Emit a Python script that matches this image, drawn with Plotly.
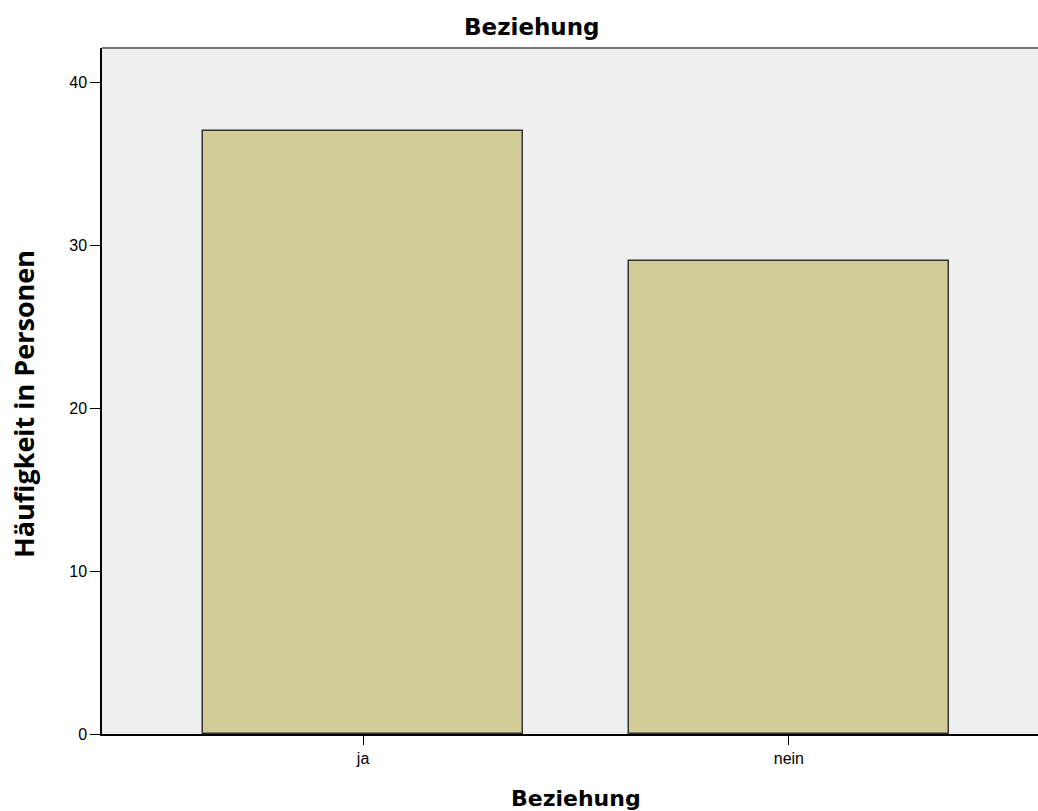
import plotly.graph_objects as go

categories = ["ja", "nein"]
counts = [37, 29]
y_ticks = [0, 10, 20, 30, 40]

W, H = 1038, 811
L, T, B = 102, 48, 77

fig = go.Figure()
fig.add_trace(go.Bar(
    x=[0, 1], y=counts, width=0.751,
    marker=dict(color="#d2cd98", line=dict(color="#333333", width=1.5)),
    showlegend=False,
))

fig.update_layout(
    width=W, height=H,
    margin=dict(l=L, r=0, t=T, b=B),
    paper_bgcolor="white", plot_bgcolor="#efefef",
    bargap=0,
)
fig.update_xaxes(
    range=[-0.613, 1.585], tickvals=[0, 1], ticktext=categories,
    showgrid=False, zeroline=False, showline=True, linecolor="black", linewidth=1.5,
    ticks="outside", ticklen=9, tickcolor="black", tickwidth=1,
    tickfont=dict(family="Liberation Sans, Arial", size=16, color="black"),
)
fig.update_yaxes(
    range=[0, 42.09], tickvals=y_ticks,
    showgrid=False, zeroline=False, showline=True, linecolor="black", linewidth=1.5,
    ticks="outside", ticklen=10, tickcolor="black", tickwidth=1,
    tickfont=dict(family="Liberation Sans, Arial", size=16, color="black"),
)
fig.add_shape(type="line", xref="paper", yref="paper", x0=0, x1=1, y0=1, y1=1,
              line=dict(color="#777777", width=2))

plot_w = W - L
plot_h = H - T - B
# chart title
fig.add_annotation(text="<b>Beziehung</b>", xref="paper", yref="paper",
                   x=(531.5 - L) / plot_w, y=1 + (48 - 27) / plot_h,
                   xanchor="center", yanchor="middle", showarrow=False,
                   font=dict(family="DejaVu Sans", size=23, color="black"))
# x-axis title
fig.add_annotation(text="<b>Beziehung</b>", xref="paper", yref="paper",
                   x=(576 - L) / plot_w, y=-(798 - 734) / plot_h,
                   xanchor="center", yanchor="middle", showarrow=False,
                   font=dict(family="DejaVu Sans", size=22, color="black"))
# y-axis title
fig.add_annotation(text="<b>Häufigkeit in Personen</b>", xref="paper", yref="paper",
                   x=0, xshift=23 - L, y=(734 - 404) / plot_h,
                   xanchor="center", yanchor="middle", textangle=-90, showarrow=False,
                   font=dict(family="Open Sans", size=27, color="black"))

fig.write_html("out.html", config={"displayModeBar": False},
               post_script="document.body.style.margin='0';document.body.style.overflow='hidden';")
